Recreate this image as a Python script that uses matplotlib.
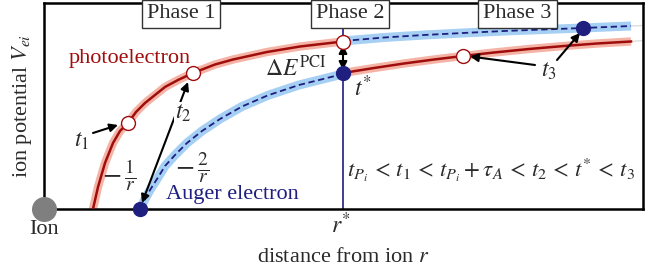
import matplotlib
matplotlib.use("Agg")
import matplotlib.pyplot as plt

plt.rcParams["font.family"] = ["Liberation Serif", "DejaVu Serif"]
plt.rcParams["mathtext.fontset"] = "stix"

# schematic values (distance from ion, potential height)
photo_r = [49, 54, 61, 69, 76, 84, 92, 101, 111, 121, 134, 149, 171, 189, 223, 256, 299]
photo_v = [0, 22, 46, 66, 78, 86, 97, 106, 114, 122, 129, 136, 144.5, 149.5, 157, 162.5, 167.5]
auger_r = [96, 100, 106, 113, 121, 131, 143, 158, 176, 198, 224, 255, 299]
auger_v = [0, 8, 19, 30, 43, 54, 66, 78, 90, 102.5, 113.7, 124, 135]

photo_after_r = [299, 330, 360, 390, 419, 450, 485, 520, 553, 587]
photo_after_v = [136, 141, 145.5, 149.5, 153, 156.5, 160, 163, 165.5, 167.5]
auger_after_r = [299, 340, 380, 419, 460, 500, 539, 587]
auger_after_v = [168, 171.5, 174, 176, 178, 179.5, 181, 183]
tail_r = [587, 599]
photo_tail_v = [167.5, 168.5]
auger_tail_v = [183, 183.5]

r_star = 299
open_r = [84, 149, 299, 419]        # t1, t2, photoelectron at r*, t3
open_v = [86, 136, 167.5, 153]
full_r = [96, 299, 539]              # Auger start, r*, t3
full_v = [0, 136, 181.5]

phases = ["Phase 1", "Phase 2", "Phase 3"]
phase_x = [137, 306, 473.5]

RED = "#a00d0d"
RED_GLOW = "#f4b3a4"
NAVY = "#1f1f80"
BLUE_GLOW = "#a5cff3"
TXT = "#2a2a2a"

fig = plt.figure(figsize=(6.67, 2.76), dpi=100)
ax = fig.add_axes([44 / 667, 67 / 276, 599 / 667, 206 / 276])
ax.set_xlim(0, 599)
ax.set_ylim(0, 206)
ax.set_xticks([])
ax.set_yticks([])
for s in ax.spines.values():
    s.set_linewidth(1.8)

# r* marker line
ax.plot([r_star, r_star], [0, 182], color=NAVY, lw=1.2, zorder=2)

# faint tails
ax.plot(tail_r, photo_tail_v, color="#dddddd", lw=1, zorder=1)
ax.plot(tail_r, auger_tail_v, color="#dddddd", lw=1, zorder=1)

# glows
ax.plot(photo_r, photo_v, color=RED_GLOW, lw=6, solid_capstyle="butt", zorder=2)
ax.plot(photo_after_r, photo_after_v, color=RED_GLOW, lw=6, solid_capstyle="butt", zorder=2)
ax.plot(auger_r, auger_v, color=BLUE_GLOW, lw=6.5, solid_capstyle="butt", zorder=2)
ax.plot(auger_after_r, auger_after_v, color=BLUE_GLOW, lw=6.5, solid_capstyle="butt", zorder=2)

# curves
ax.plot(photo_r, photo_v, color=RED, lw=1.8, zorder=3)
ax.plot(photo_after_r, photo_after_v, color=RED, lw=1.8, zorder=3)
ax.plot(auger_r, auger_v, color=NAVY, lw=1.3, ls=(0, (3.5, 2)), zorder=3)
ax.plot(auger_after_r, auger_after_v, color=NAVY, lw=1.3, ls=(0, (3.5, 2)), zorder=3)

# arrows
arr = dict(arrowstyle="-|>", color="black", lw=1.5, mutation_scale=12, shrinkA=0, shrinkB=0)
arr2 = dict(arrowstyle="<|-|>", color="black", lw=1.5, mutation_scale=12, shrinkA=0, shrinkB=0)
ax.annotate("", xy=(r_star, 164), xytext=(r_star, 139), arrowprops=arr2, zorder=4)
ax.annotate("", xy=(74, 84), xytext=(49, 76), arrowprops=arr, zorder=4)
ax.annotate("", xy=(144, 127), xytext=(98, 6), arrowprops=arr2, zorder=4)
ax.annotate("", xy=(426, 152.5), xytext=(491, 144), arrowprops=arr, zorder=4)
ax.annotate("", xy=(536, 176), xytext=(513, 149), arrowprops=arr, zorder=4)

# markers
ax.plot([0], [0], "o", color="#7f7f7f", ms=17, clip_on=False, zorder=5)
ax.plot(open_r, open_v, "o", mfc="white", mec=RED, mew=1.0, ms=10, ls="none", zorder=5)
ax.plot(full_r, full_v, "o", color=NAVY, ms=10, ls="none", clip_on=False, zorder=5)

fs = 16
fm = 17
# labels
ax.text(86, 151, "photoelectron", color=RED, fontsize=fs, ha="center", va="center")
ax.text(188, 14, "Auger electron", color=NAVY, fontsize=fs, ha="center", va="center")
ax.text(75, 34, r"$-\,\frac{1}{r}$", color=TXT, fontsize=20, ha="center", va="center")
ax.text(148, 41, r"$-\,\frac{2}{r}$", color=TXT, fontsize=20, ha="center", va="center")
ax.text(38, 68, r"$t_1$", color=TXT, fontsize=fm, ha="center", va="center")
ax.text(139, 96, r"$t_2$", color=TXT, fontsize=fm, ha="center", va="center",
        bbox=dict(fc="white", ec="none", pad=0.3), zorder=4.5)
ax.text(505, 138, r"$t_3$", color=TXT, fontsize=fm, ha="center", va="center")
ax.text(319, 121, r"$t^{*}$", color=TXT, fontsize=fm, ha="center", va="center")
ax.text(282, 141, r"$\Delta E^{\mathrm{PCI}}$", color=TXT, fontsize=fm, ha="right", va="center")
ax.text(447.5, 39,
        r"$t_{P_i}\,<\,t_1\,<\,t_{P_i} + \tau_A\,<\,t_2\,<\,t^{*}\,<\,t_3$",
        color=TXT, fontsize=16.6, ha="center", va="center")
ax.text(0, -21, "Ion", color=TXT, fontsize=fs, ha="center", va="center", clip_on=False)
ax.text(297, -16, r"$r^{*}$", color=TXT, fontsize=fm, ha="center", va="center", clip_on=False)
ax.text(299.5, -48, r"distance from ion $r$", color=TXT, fontsize=fs, ha="center", va="center",
        clip_on=False)
ax.text(-22, 103, r"ion potential $V_{ei}$", color=TXT, fontsize=fs, ha="center", va="center",
        rotation=90, clip_on=False)

for name, x in zip(phases, phase_x):
    ax.text(x, 195, name, color=TXT, fontsize=fs, ha="center", va="center", zorder=6,
            bbox=dict(boxstyle="square,pad=0.22", fc="white", ec="#333333", lw=1.0))

fig.savefig("out.png", dpi=100)
